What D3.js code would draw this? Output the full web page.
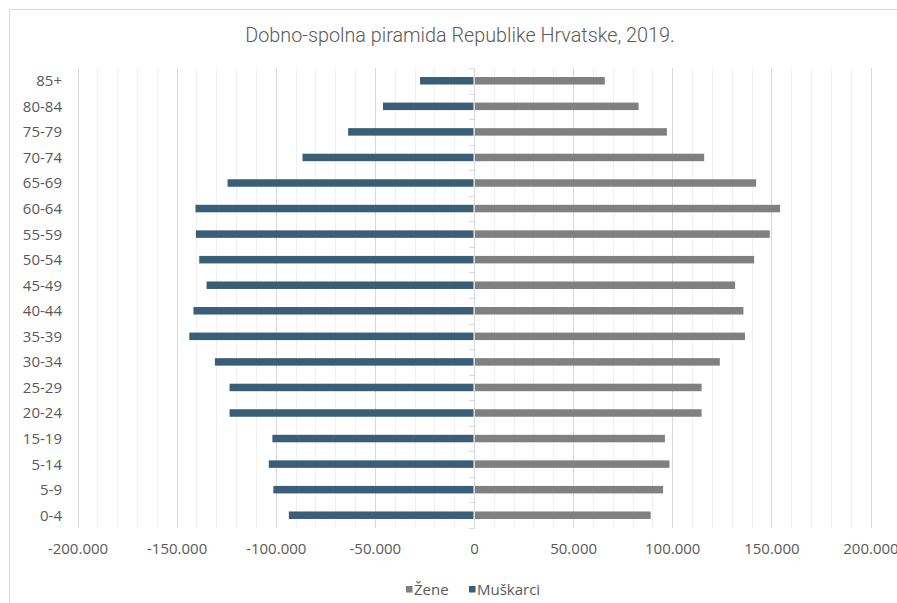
<!DOCTYPE html>
<html>
<head>
<meta charset="utf-8">
<script src="https://cdn.jsdelivr.net/npm/d3@7"></script>
<style>
  html, body { margin: 0; padding: 0; background: #fff; }
  svg { display: block; }
</style>
</head>
<body>
<svg id="chart" width="897" height="603"></svg>
<script>
// Data
const categories = ["0-4","5-9","5-14","15-19","20-24","25-29","30-34","35-39","40-44","45-49","50-54","55-59","60-64","65-69","70-74","75-79","80-84","85+"];
const zene = [89100, 95400, 98600, 96300, 114800, 114800, 124000, 136700, 135900, 131700, 141300, 149200, 154400, 142300, 116100, 97300, 83000, 66000];
const muskarci = [-93400, -101200, -103500, -101700, -123300, -123300, -130700, -143600, -141500, -134900, -138600, -140300, -140500, -124300, -86500, -63500, -45900, -27200];
const xTicks = [-200000, -150000, -100000, -50000, 0, 50000, 100000, 150000, 200000];
const seriesNames = ["Žene", "Muškarci"];
const seriesColors = ["#808080", "#3b5e78"];
const title = "Dobno-spolna piramida Republike Hrvatske, 2019.";

(function () {
const svg = d3.select("#chart");
const font = "'Open Sans', 'Noto Sans', sans-serif";
const textColor = "#595959";

// frame
svg.append("rect").attr("x", 9.5).attr("y", 9.5).attr("width", 900).attr("height", 600)
  .attr("fill", "#fff").attr("stroke", "#d9d9d9").attr("stroke-width", 1);

const plotTop = 68, plotBottom = 528;
const x = d3.scaleLinear().domain([-200000, 200000]).range([77.5, 870.5]);
const y = d3.scaleBand().domain(categories.slice().reverse()).range([plotTop, plotBottom]);

// gridlines: minor every 10000, major every 50000
const minor = d3.range(-200000, 200001, 10000).filter(v => v % 50000 !== 0);
svg.append("g").selectAll("line").data(minor).join("line")
  .attr("x1", d => Math.round(x(d)) + 0.5).attr("x2", d => Math.round(x(d)) + 0.5)
  .attr("y1", plotTop).attr("y2", plotBottom)
  .attr("stroke", "#f0f0f0").attr("stroke-width", 1);
svg.append("g").selectAll("line").data(xTicks.filter(v => v !== 0)).join("line")
  .attr("x1", d => Math.round(x(d)) + 0.5).attr("x2", d => Math.round(x(d)) + 0.5)
  .attr("y1", plotTop).attr("y2", plotBottom)
  .attr("stroke", "#d9d9d9").attr("stroke-width", 1);

// zero axis line with category ticks
const x0 = Math.round(x(0)) + 0.5;
svg.append("line").attr("x1", x0).attr("x2", x0).attr("y1", plotTop).attr("y2", plotBottom)
  .attr("stroke", "#d9d9d9").attr("stroke-width", 1);
const bounds = categories.map(c => y(c)).concat([plotBottom]);
svg.append("g").selectAll("line").data(bounds).join("line")
  .attr("x1", x0 - 5).attr("x2", x0)
  .attr("y1", d => Math.round(d) + 0.5).attr("y2", d => Math.round(d) + 0.5)
  .attr("stroke", "#d9d9d9").attr("stroke-width", 1);

// bars
const barH = 7.5;
const rows = categories.map((c, i) => ({ c, z: zene[i], m: muskarci[i] }));
const bars = svg.append("g");
bars.selectAll("rect.m").data(rows).join("rect").attr("class", "m")
  .attr("x", d => x(d.m))
  .attr("width", d => x(0) - 0.5 - x(d.m))
  .attr("y", d => y(d.c) + y.bandwidth() / 2 - barH / 2)
  .attr("height", barH)
  .attr("fill", seriesColors[1]);
bars.selectAll("rect.z").data(rows).join("rect").attr("class", "z")
  .attr("x", x(0) + 1)
  .attr("width", d => x(d.z) - x(0) - 1)
  .attr("y", d => y(d.c) + y.bandwidth() / 2 - barH / 2)
  .attr("height", barH)
  .attr("fill", seriesColors[0]);

// category labels
svg.append("g").selectAll("text").data(categories).join("text")
  .attr("x", 62).attr("y", d => y(d) + y.bandwidth() / 2)
  .attr("dy", "0.36em")
  .attr("text-anchor", "end")
  .attr("font-family", font).attr("font-size", 15).attr("fill", textColor)
  .text(d => d);

// x axis labels
const loc = d3.formatLocale({ decimal: ",", thousands: ".", grouping: [3], currency: ["", "€"], minus: "-" });
const fmt = loc.format(",d");
const xAxis = d3.axisBottom(x).tickValues(xTicks).tickFormat(fmt).tickSize(0).tickPadding(0);
const gx = svg.append("g").attr("transform", `translate(0, ${plotBottom + 26})`).call(xAxis);
gx.select(".domain").remove();
gx.selectAll("text").attr("font-family", font).attr("font-size", 15).attr("fill", textColor).attr("dy", "0");

// title
svg.append("text").attr("x", 460).attr("y", 42).attr("text-anchor", "middle")
  .attr("font-family", "Roboto, 'Open Sans', sans-serif").attr("font-weight", 300)
  .attr("font-size", 19.8).attr("fill", textColor).text(title);

// legend
const legendItems = [{ name: seriesNames[0], color: seriesColors[0], x: 406 }, { name: seriesNames[1], color: seriesColors[1], x: 469 }];
const lg = svg.append("g");
legendItems.forEach(it => {
  lg.append("rect").attr("x", it.x).attr("y", 586).attr("width", 6.5).attr("height", 6.5).attr("fill", it.color);
  lg.append("text").attr("x", it.x + 8).attr("y", 594.5)
    .attr("font-family", font).attr("font-size", 15).attr("fill", textColor).text(it.name);
});
})();
</script>
</body>
</html>
